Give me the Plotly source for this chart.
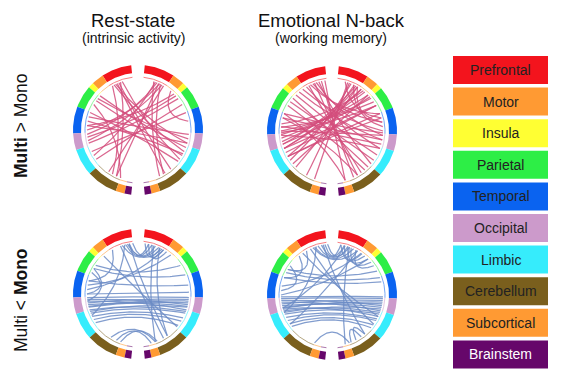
import numpy as np
import plotly.graph_objects as go

# ---------------- data ----------------
regions = ["Prefrontal", "Motor", "Insula", "Parietal", "Temporal",
           "Occipital", "Limbic", "Cerebellum", "Subcortical", "Brainstem"]
region_colors = ["#F3141D", "#FF9A33", "#FFFF33", "#2DEE46", "#0A63F0",
                 "#CC9ACB", "#36ECFC", "#7A5F1D", "#FF9A33", "#66076A"]
legend_text_colors = ["#222222"] * 9 + ["#FFFFFF"]
# region boundaries on each hemisphere (degrees clockwise from 12 o'clock)
region_bounds = [6, 33, 44, 49, 69, 93, 108, 132, 160, 168, 174]

col_titles = ["Rest-state", "Emotional N-back"]
col_subtitles = ["(intrinsic activity)", "(working memory)"]
row_labels = ["<b>Multi</b> &gt; Mono", "Multi &lt; <b>Mono</b>"]

# chords: (angle of node A, angle of node B), degrees clockwise from 12 o'clock
chords_rest_multi_gt = [
    (338, 140), (336, 148), (334, 105), (332, 115), (340, 205), (330, 210), (342, 125),
    (22, 265), (25, 270), (28, 258), (20, 240), (24, 205), (26, 150), (18, 155), (30, 215),
    (308, 100), (312, 110), (305, 120),
    (285, 95), (280, 118), (290, 128), (275, 105),
    (48, 262), (52, 255), (45, 275),
    (70, 245), (40, 80), (60, 235), (300, 200)]
chords_nback_multi_gt = [
    (262, 40), (266, 45), (270, 50), (258, 35), (274, 55), (255, 48), (268, 60), (278, 38), (250, 30),
    (335, 70), (338, 80), (342, 95), (330, 110), (345, 130), (340, 150), (333, 145),
    (22, 235), (26, 240), (30, 225), (20, 210), (35, 250), (18, 200), (28, 255),
    (95, 270), (100, 285), (105, 275), (110, 265), (92, 290),
    (305, 125), (310, 135), (300, 140), (315, 118),
    (25, 85), (30, 80), (15, 75),
    (348, 155), (352, 165), (290, 165), (285, 150), (245, 60), (240, 70), (230, 45),
    (320, 100), (325, 90), (60, 250), (75, 240)]
chords_rest_multi_lt = [
    (350, 12), (346, 16), (354, 20), (342, 24), (348, 28),
    (12, 30), (16, 34), (8, 26),
    (330, 285), (295, 270), (300, 262),
    (304, 56), (300, 68),
    (255, 100), (258, 104), (260, 96), (262, 108), (252, 110), (256, 98), (264, 102),
    (250, 105), (266, 94), (248, 112),
    (240, 122), (236, 128), (244, 118),
    (345, 245), (350, 145), (340, 150), (318, 130), (18, 160), (25, 145),
    (212, 160), (205, 165), (200, 158),
    (275, 30), (280, 40), (270, 88), (285, 80)]
chords_nback_multi_lt = [
    (348, 14), (344, 20), (352, 10), (340, 25), (355, 18), (338, 30),
    (14, 36), (18, 45), (22, 50), (28, 55), (10, 40),
    (320, 290), (330, 300), (305, 275),
    (300, 62), (296, 70),
    (255, 98), (258, 104), (260, 96), (262, 108), (252, 110), (256, 100), (264, 102),
    (250, 106), (266, 94), (248, 112), (254, 115), (268, 92),
    (240, 120), (236, 126), (244, 118), (232, 130),
    (342, 250), (350, 140), (335, 125), (325, 115), (20, 165), (30, 235), (15, 255),
    (140, 152), (145, 158), (200, 160),
    (280, 35), (270, 45), (290, 75)]

panel_chords = [[chords_rest_multi_gt, chords_nback_multi_gt],
                [chords_rest_multi_lt, chords_nback_multi_lt]]
row_chord_colors = ["rgba(212,78,124,0.85)", "rgba(108,140,198,0.85)"]

# ---------------- geometry ----------------
W, H = 565, 388
centers = [[(138, 130), (332, 131)], [(138, 294), (332, 295)]]
R_OUT, R_IN, R_THIN, R_CHORD = 65, 57, 53, 51
BEND = 0.55


def pt(cx, cy, r, th):
    t = np.radians(th)
    return cx + r * np.sin(t), cy - r * np.cos(t)


fig = go.Figure()

for i in range(2):
    for j in range(2):
        cx, cy = centers[i][j]
        # outer ring + thin inner ring
        for k, col in enumerate(region_colors):
            a0, a1 = region_bounds[k], region_bounds[k + 1]
            for side in (1, -1):
                ang = np.linspace(a0, a1, 30) * side
                xo, yo = pt(cx, cy, R_OUT, ang)
                xi, yi = pt(cx, cy, R_IN, ang[::-1])
                fig.add_trace(go.Scatter(
                    x=np.r_[xo, xi, xo[:1]], y=np.r_[yo, yi, yo[:1]],
                    mode="lines", fill="toself", fillcolor=col,
                    line=dict(width=0, color=col), hoverinfo="skip", showlegend=False))
                xt, yt = pt(cx, cy, R_THIN, ang)
                fig.add_trace(go.Scatter(
                    x=xt, y=yt, mode="lines", line=dict(width=1, color=col),
                    opacity=0.55, hoverinfo="skip", showlegend=False))
        # chords
        xs, ys = [], []
        tt = np.linspace(0, 1, 50)
        for a, b in panel_chords[i][j]:
            d = ((b - a + 180) % 360) - 180
            mid = a + d / 2
            rho = R_CHORD * np.cos(np.radians(abs(d) / 2)) * BEND
            x0, y0 = pt(cx, cy, R_CHORD, a)
            x2, y2 = pt(cx, cy, R_CHORD, b)
            x1, y1 = pt(cx, cy, rho, mid)
            bx = (1 - tt) ** 2 * x0 + 2 * (1 - tt) * tt * x1 + tt ** 2 * x2
            by = (1 - tt) ** 2 * y0 + 2 * (1 - tt) * tt * y1 + tt ** 2 * y2
            xs += list(bx) + [None]
            ys += list(by) + [None]
        fig.add_trace(go.Scatter(x=xs, y=ys, mode="lines",
                                 line=dict(width=1.25, color=row_chord_colors[i]),
                                 hoverinfo="skip", showlegend=False))

FONT = "Arial, 'Liberation Sans', sans-serif"
ann = []
title_x = [133, 331]
for j in range(2):
    ann.append(dict(x=title_x[j], y=20, text=col_titles[j], showarrow=False,
                    font=dict(size=18.5, color="#111111", family=FONT)))
    ann.append(dict(x=title_x[j], y=38, text=col_subtitles[j], showarrow=False,
                    font=dict(size=14, color="#111111", family=FONT)))
row_y = [126, 300]
for i in range(2):
    ann.append(dict(x=21, y=row_y[i], text=row_labels[i], textangle=-90, showarrow=False,
                    font=dict(size=17.5, color="#111111", family=FONT)))

shapes = []
LX0, LX1, LY0, LP, LH = 453, 548, 56, 31.6, 28
for k, name in enumerate(regions):
    y0 = LY0 + k * LP
    shapes.append(dict(type="rect", x0=LX0, x1=LX1, y0=y0, y1=y0 + LH,
                       xref="x", yref="y", fillcolor=region_colors[k], line=dict(width=0),
                       layer="below"))
    ann.append(dict(x=(LX0 + LX1) / 2, y=y0 + LH / 2, text=name, showarrow=False,
                    font=dict(size=14, color=legend_text_colors[k], family=FONT)))

fig.update_layout(
    width=W, height=H, margin=dict(l=0, r=0, t=0, b=0),
    paper_bgcolor="white", plot_bgcolor="white",
    xaxis=dict(range=[0, W], visible=False, fixedrange=True),
    yaxis=dict(range=[H, 0], visible=False, fixedrange=True),
    annotations=ann, shapes=shapes, showlegend=False)

fig.write_html("out.html", config={"displayModeBar": False},
               post_script="document.body.style.margin='0px';")
